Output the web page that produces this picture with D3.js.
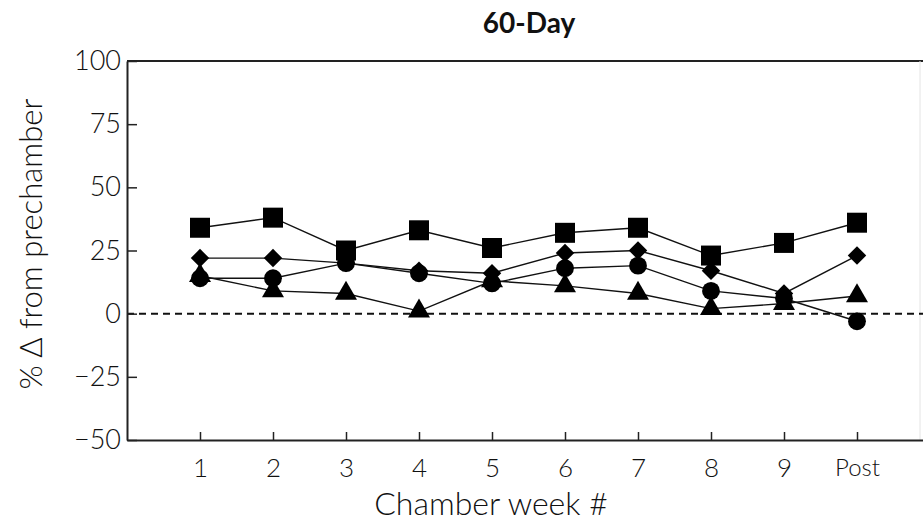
<!DOCTYPE html>
<html>
<head>
<meta charset="utf-8">
<script src="https://d3js.org/d3.v7.min.js"></script>
<style>
  body { margin: 0; background: white; }
  text { font-family: Lato, "Open Sans", sans-serif; fill: #111; }
</style>
</head>
<body>
<svg id="chart" width="923" height="523"></svg>
<script>
// chamber weeks (Post = position 10)
var weekLabels = ["1", "2", "3", "4", "5", "6", "7", "8", "9", "Post"];
var weekPos = [1, 2, 3, 4, 5, 6, 7, 8, 9, 10];
var yTicks = [-50, -25, 0, 25, 50, 75, 100];

// % change from prechamber
var squareVals = [34, 38, 25, 33, 26, 32, 34, 23, 28, 36];
var diamondVals = [22, 22, 20, 17, 16, 24, 25, 17, 8, 23];
var circleVals = [14, 14, 20, 16, 12, 18, 19, 9, 6, -3];
var triangleVals = [15, 9, 8, 1, 13, 11, 8, 2, 4, 7];

var svg = d3.select("#chart");

var xs = d3.scaleLinear().domain([0, 11]).range([127, 930]);
var ys = d3.scaleLinear().domain([-50, 100]).range([440, 61]);

// frame top line + faint right edge
svg.append("line")
  .attr("x1", 127).attr("x2", 923)
  .attr("y1", ys(100)).attr("y2", ys(100))
  .attr("stroke", "#222").attr("stroke-width", 2);
svg.append("line")
  .attr("x1", 920).attr("x2", 920)
  .attr("y1", ys(100)).attr("y2", ys(-50))
  .attr("stroke", "#e4e4e4").attr("stroke-width", 1);

// zero reference line
svg.append("line")
  .attr("x1", 127).attr("x2", 923)
  .attr("y1", ys(0)).attr("y2", ys(0))
  .attr("stroke", "#111").attr("stroke-width", 2)
  .attr("stroke-dasharray", "7,5");

// axes
var yAxis = svg.append("g")
  .attr("transform", "translate(127,0)")
  .call(d3.axisLeft(ys).tickValues(yTicks).tickSize(-10).tickSizeOuter(0).tickPadding(6)
    .tickFormat(function(d) { return d < 0 ? "\u2212" + Math.abs(d) : d; }));
yAxis.select(".domain").attr("stroke", "#222").attr("stroke-width", 2);
yAxis.selectAll(".tick line").attr("stroke", "#222").attr("stroke-width", 1.5);
yAxis.selectAll(".tick text").attr("font-size", 27).style("font-family", "Lato, sans-serif")
  .attr("font-weight", 300).attr("fill", "#111");

var xAxis = svg.append("g")
  .attr("transform", "translate(0," + ys(-50) + ")")
  .call(d3.axisBottom(xs).tickValues(weekPos).tickSize(-8).tickSizeOuter(0).tickPadding(19)
    .tickFormat(function(d, i) { return weekLabels[i]; }));
xAxis.select(".domain").attr("stroke", "#222").attr("stroke-width", 2);
xAxis.selectAll(".tick line").attr("stroke", "#222").attr("stroke-width", 1.5);
xAxis.selectAll(".tick text").style("font-family", "Lato, sans-serif")
  .attr("fill", "#111").attr("font-weight", 300)
  .attr("font-size", function(d, i) { return weekLabels[i] == "Post" ? 24 : 26; });

// titles
svg.append("text")
  .attr("x", 529).attr("y", 33)
  .attr("text-anchor", "middle")
  .attr("font-size", 28).attr("font-weight", "bold")
  .text("60-Day");

svg.append("text")
  .attr("x", 491).attr("y", 515)
  .attr("text-anchor", "middle")
  .attr("font-size", 32).attr("font-weight", 300)
  .text("Chamber week #");

svg.append("text")
  .attr("transform", "translate(42,244) rotate(-90)")
  .attr("text-anchor", "middle")
  .attr("font-size", 31).attr("font-weight", 300)
  .text("% \u0394 from prechamber");

// series lines and markers
var series = [
  { vals: triangleVals, sym: d3.symbolTriangle, size: 210, rot: 0 },
  { vals: circleVals, sym: d3.symbolCircle, size: 250, rot: 0 },
  { vals: diamondVals, sym: d3.symbolSquare, size: 170, rot: 45 },
  { vals: squareVals, sym: d3.symbolSquare, size: 400, rot: 0 }
];

var line = d3.line()
  .x(function(d, i) { return xs(weekPos[i]); })
  .y(function(d) { return ys(d); });

series.forEach(function(s) {
  svg.append("path")
    .attr("d", line(s.vals))
    .attr("fill", "none")
    .attr("stroke", "#111")
    .attr("stroke-width", 1.4);
});

series.forEach(function(s) {
  svg.selectAll(null)
    .data(s.vals)
    .enter().append("path")
    .attr("transform", function(d, i) {
      return "translate(" + xs(weekPos[i]) + "," + ys(d) + ") rotate(" + s.rot + ")";
    })
    .attr("d", d3.symbol().type(s.sym).size(s.size))
    .attr("fill", "#000");
});
</script>
</body>
</html>
